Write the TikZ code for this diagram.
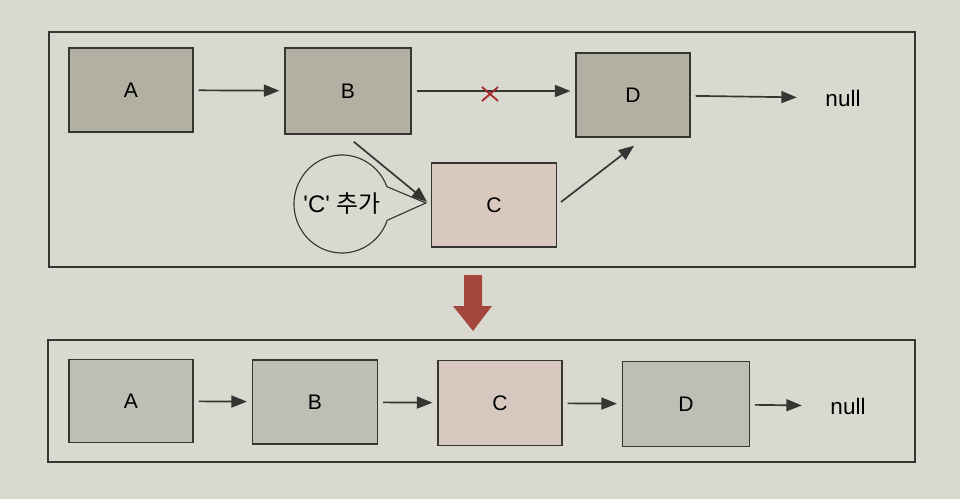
\documentclass[tikz,border=0pt]{standalone}
\usepackage{fontspec}
\setmainfont{Liberation Sans}
\newfontfamily\kofont{Noto Sans CJK KR}
\usetikzlibrary{arrows.meta,shapes.callouts,calc}

\definecolor{paper}{HTML}{DAD9D0}
\definecolor{ink}{HTML}{353533}
\definecolor{nodegray}{HTML}{B2B0A2}
\definecolor{nodepink}{HTML}{D9C8BD}
\definecolor{rowgray}{HTML}{BCBFB3}
\definecolor{rowpink}{HTML}{D6C8BF}
\definecolor{crossred}{HTML}{A52A2A}
\definecolor{arrowred}{HTML}{A4463B}

\begin{document}
\begin{tikzpicture}[x=0.025cm, y=-0.025cm, thick,
  box/.style={draw=ink, line width=0.9pt, inner sep=0pt, font=\fontsize{15}{18}\selectfont},
  link/.style={draw=ink, line width=1.2pt, -{Triangle[length=11pt,width=8.5pt]},
    shorten <=3.5pt, shorten >=3.5pt},
  frame/.style={draw=ink, line width=1.2pt}]
  \fill[paper] (0,0) rectangle (960,499);
  \useasboundingbox (0,0) rectangle (960,499);

  \draw[frame] (49,32) rectangle (915,267);
  \draw[frame] (48,340) rectangle (915,462);

  \node[box, fill=nodegray, minimum width=3.1cm, minimum height=2.1cm] (A) at (131,90) {A};
  \node[box, fill=nodegray, minimum width=3.15cm, minimum height=2.15cm] (B) at (348,91) {B};
  \node[box, fill=nodegray, minimum width=2.85cm, minimum height=2.1cm] (D) at (633,95) {D};
  \node[box, fill=nodepink, minimum width=3.125cm, minimum height=2.1cm] (C) at (494,205) {C};
  \node[inner sep=0pt, font=\fontsize{16}{19}\selectfont] (N) at (843,98) {null};
  \coordinate (X) at (490,94);

  \draw[link] (A) -- (B);
  \draw[link] (B.east) -- (D.west |- B.east);
  \draw[link, shorten >=20pt] (D) -- (N);
  \draw[link] (C.east) -- ($(D.south)+(5,5)$);

  \draw[crossred, line width=1.3pt] ($(X)+(-8,-7)$) -- ($(X)+(8,7)$)
    ($(X)+(-8,7)$) -- ($(X)+(8,-7)$);

  \node[ellipse callout, draw=ink, line width=0.8pt, fill=paper,
    minimum width=2.4cm, minimum height=2.45cm, inner xsep=-6pt, inner ysep=0pt,
    callout pointer arc=40,
    callout absolute pointer={($(C.west)+(-5,-2)$)},
    font=\fontsize{17}{20}\selectfont] (bubble) at (342,204)
    {\textquotesingle C\textquotesingle{} {\kofont 추가}};
  \draw[link] ($(B.south)+(2,4)$) -- (C.west);

  \fill[arrowred] (464,275) -- (482,275) -- (482,306) -- (492,306)
    -- (473,331) -- (453,306) -- (464,306) -- cycle;

  \node[box, fill=rowgray, minimum width=3.1cm, minimum height=2.075cm] (A2) at (131,401) {A};
  \node[box, fill=rowgray, minimum width=3.125cm, minimum height=2.1cm] (B2) at (315,402) {B};
  \node[box, fill=rowpink, minimum width=3.1cm, minimum height=2.125cm] (C2) at (500,403) {C};
  \node[box, fill=rowgray, minimum width=3.175cm, minimum height=2.125cm] (D2) at (686,404) {D};
  \node[inner sep=0pt, font=\fontsize{16}{19}\selectfont] (N2) at (848,406) {null};

  \draw[link] (A2) -- (B2);
  \draw[link] (B2) -- (C2);
  \draw[link] (C2) -- (D2);
  \draw[link, shorten >=20pt] (D2) -- (N2);
\end{tikzpicture}
\end{document}
